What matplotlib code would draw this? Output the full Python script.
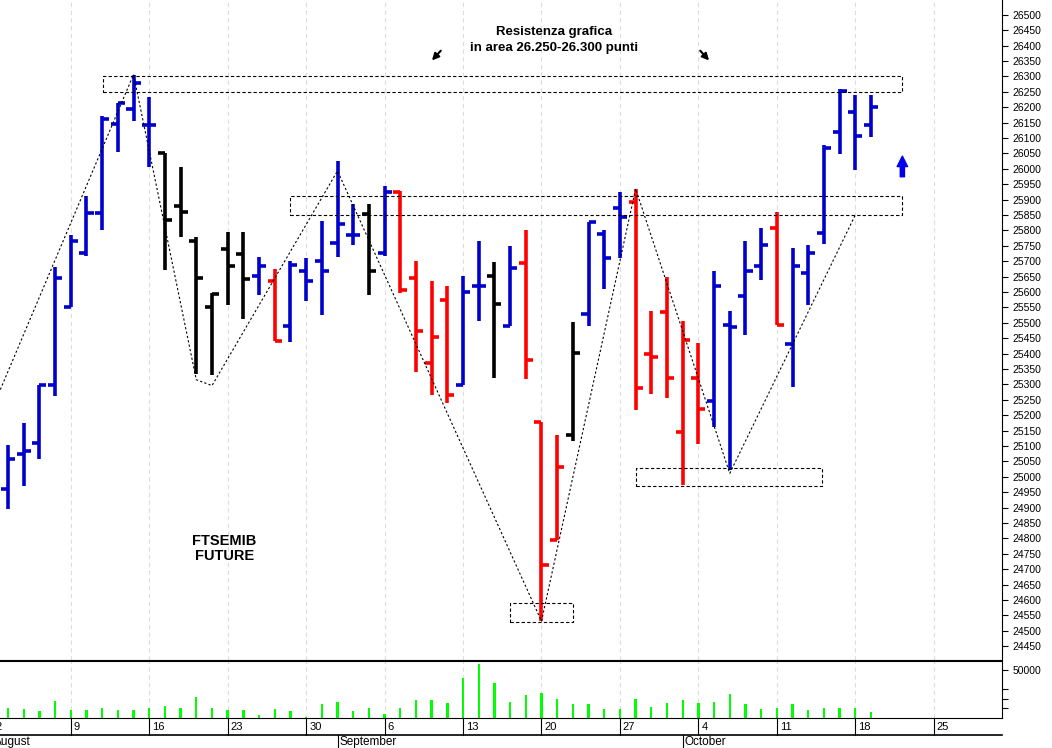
import matplotlib
matplotlib.use("Agg")
import matplotlib.pyplot as plt
import numpy as np

plt.rcParams['font.family'] = ['Liberation Sans', 'DejaVu Sans']

opens  = [24960,25073,25108,25299,25551,25728,25857,26145,26193,26141,26051,25880,25764,25551,25738,25722,25651,25634,25489,25667,
          25702,25760,25786,25854,25725,25925,25644,25370,25573,25299,25618,25651,25489,25693,25179,24795,25137,25528,25789,25873,
          25893,25399,25534,25144,25321,25247,25492,25586,25683,25809,25431,25661,25793,26119,26183,26141]
highs  = [25102,25176,25299,25680,25786,25912,26170,26215,26306,26232,26051,26006,25777,25596,25796,25796,25712,25676,25699,25709,
          25831,26025,25886,25886,25944,25928,25699,25634,25618,25651,25764,25696,25748,25802,25179,25137,25502,25828,25802,25925,
          25935,25538,25648,25505,25434,25667,25538,25764,25809,25860,25744,25754,26077,26258,26238,26238]
lows   = [24895,24970,25057,25263,25551,25718,25802,26054,26154,26006,25670,25777,25334,25331,25557,25512,25589,25441,25438,25570,
          25525,25715,25751,25589,25718,25596,25341,25266,25241,25299,25505,25321,25489,25318,24531,24795,25115,25489,25609,25709,
          25218,25270,25257,24973,25105,25163,25021,25460,25638,25492,25292,25557,25757,26048,25996,26103]
closes = [25057,25083,25299,25644,25767,25857,26161,26215,26280,26141,25835,25860,25644,25593,25683,25641,25683,25441,25686,25634,
          25667,25822,25786,25667,25925,25605,25473,25454,25266,25599,25618,25560,25677,25380,24715,25031,25402,25828,25709,25844,
          25289,25389,25321,25444,25221,25618,25486,25667,25754,25492,25683,25728,26067,26251,26106,26199]
colors = list("bbbbbbbbbbkkkkkkbrbbbbbkbrrrrbbkbrrrkbbbrrrrrbbbbrbbbbbb")
volumes = [10850,9100,7000,17500,8750,8050,10850,8050,8050,10850,12600,10850,21700,10850,8050,8050,3500,9100,7000,700,
           14000,16450,7000,10850,4550,10850,18550,18550,15050,41300,56000,36050,16100,23800,25550,19600,14700,14700,9100,9100,
           19600,11900,15400,18550,15050,16450,24500,14000,9800,10850,14000,8050,10150,10850,10850,6300]
day_labels = ["2","9","16","23","30","6","13","20","27","4","11","18","25"]
months = ["August","September","October"]
zig_x = [0.51, 9, 13, 14, 22, 35, 41, 47, 55]
zig_y = [25283, 26306, 25315, 25296, 25993, 24531, 25935, 25011, 25850]

cmap = {'b': '#0000cc', 'r': '#ff0000', 'k': '#000000'}
idx = np.arange(1, len(opens) + 1)

fig = plt.figure(figsize=(10.52, 7.48), dpi=100)
W, H = 1052, 748
X0, X1 = 0.49, 64.35
ax = fig.add_axes([0, (H-660)/H, 1002/W, 660/H])
axv = fig.add_axes([0, (H-718)/H, 1002/W, 57/H])

for i, o, h, l, c, col in zip(idx, opens, highs, lows, closes, colors):
    cc = cmap[col]
    ax.plot([i, i], [l, h], color=cc, lw=2.6, solid_capstyle='butt')
    ax.plot([i-0.45, i], [o, o], color=cc, lw=2.6, solid_capstyle='butt')
    ax.plot([i, i+0.45], [c, c], color=cc, lw=2.6, solid_capstyle='butt')

mondays = np.arange(0, 61, 5)
for m in mondays:
    ax.axvline(m, color='#dddddd', lw=0.8, ls=(0, (4, 3)), zorder=0)
    axv.axvline(m, color='#dddddd', lw=0.8, ls=(0, (4, 3)), zorder=0)

ax.plot(zig_x, zig_y, color='black', lw=0.8, ls=(0, (2, 2)))
def box(x0, x1, y0, y1):
    ax.plot([x0, x1, x1, x0, x0], [y0, y0, y1, y1, y0], color='black', lw=0.8, ls=(0, (3, 2)))
box(7.07, 57.96, 26250, 26300)
box(19.0, 57.96, 25850, 25912)
box(33.0, 37.0, 24530, 24590)
box(41.0, 52.9, 24970, 25030)

ax.set_ylim(24405, 26548)
ax.yaxis.tick_right()
ax.set_yticks(np.arange(24450, 26501, 50))
ax.tick_params(axis='y', labelsize=7.5, length=4, direction='out')
ax.tick_params(axis='x', bottom=False, labelbottom=False)
for s in ['top', 'left']:
    ax.spines[s].set_visible(False)

ax.text(35.8, 26418, "Resistenza grafica\nin area 26.250-26.300 punti", ha='center', va='center',
        fontsize=9.5, fontweight='bold', linespacing=1.35)
ax.annotate("", xy=(27.9, 26345), xytext=(28.7, 26390),
            arrowprops=dict(arrowstyle='-|>', color='black', lw=1.5, mutation_scale=10))
ax.annotate("", xy=(45.8, 26345), xytext=(45.0, 26390),
            arrowprops=dict(arrowstyle='-|>', color='black', lw=1.5, mutation_scale=10))
ax.annotate("", xy=(58.0, 26050), xytext=(58.0, 25965),
            arrowprops=dict(arrowstyle='simple', color='#0000ee', mutation_scale=15))
ax.text(14.8, 24766, "FTSEMIB\nFUTURE", ha='center', va='center', fontsize=10.5, fontweight='bold', linespacing=1.1)

axv.bar(idx, volumes, width=0.15, color='#00ff00')
axv.set_ylim(0, 59000)
axv.yaxis.tick_right()
axv.set_yticks([10000, 20000, 30000, 50000])
axv.set_yticklabels(["", "", "", "50000"])
axv.tick_params(axis='y', labelsize=7.5, length=4)
axv.set_xticks([])
axv.spines['left'].set_visible(False)

ax.set_xlim(X0, X1)
axv.set_xlim(X0, X1)

def px(i):
    return (i - X0) / (X1 - X0) * 1002

for m, lab in zip(mondays, day_labels):
    p = px(m)
    if 0 <= p <= 1002:
        fig.add_artist(plt.Line2D([p/W]*2, [(H-735)/H, (H-718)/H], color='black', lw=0.8))
    fig.text((p+3)/W, (H-727)/H, lab, fontsize=8, va='center', ha='left')

fig.add_artist(plt.Line2D([0, 1002/W], [(H-735)/H]*2, color='black', lw=1.2))
for mx, name in zip([0.51, 22, 44], months):
    p = px(mx)
    if mx > 1:
        fig.add_artist(plt.Line2D([p/W]*2, [0, (H-735)/H], color='black', lw=0.8))
        fig.text((p+2)/W, (H-742)/H, name, fontsize=8.5, va='center', ha='left')
    else:
        fig.text(-6/W, (H-742)/H, name, fontsize=8.5, va='center', ha='left')

fig.savefig("out.png", dpi=100)
